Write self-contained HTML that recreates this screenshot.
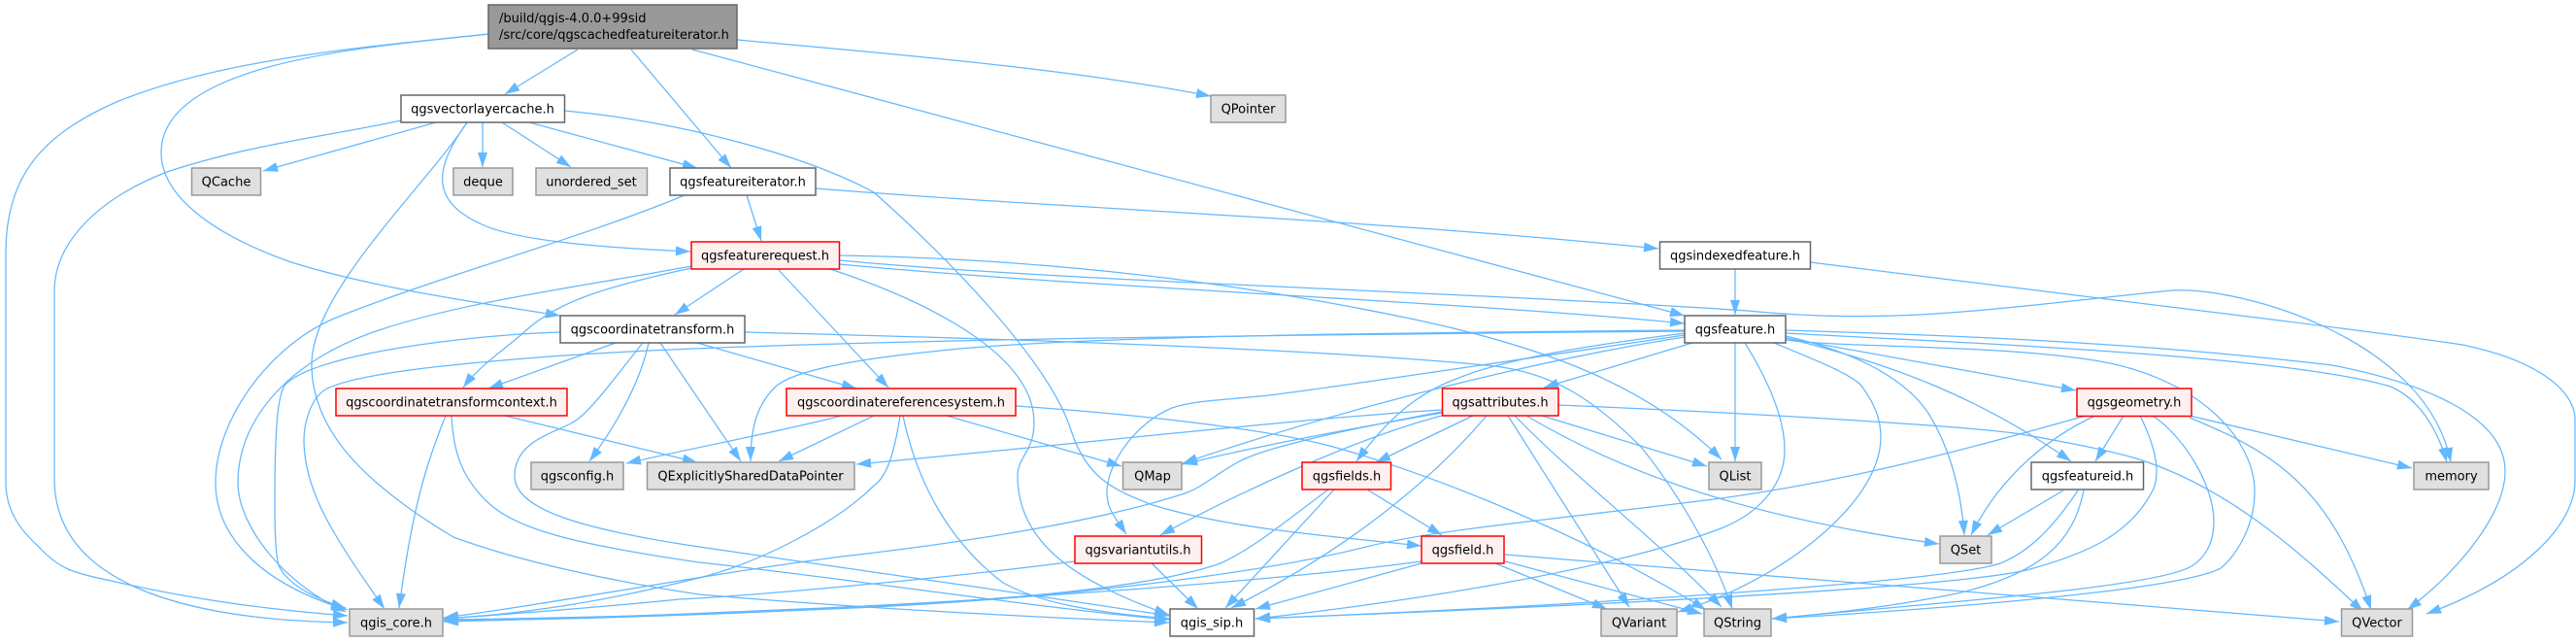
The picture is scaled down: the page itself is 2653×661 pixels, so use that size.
<!DOCTYPE html>
<html>
<head>
<meta charset="utf-8">
<title>qgscachedfeatureiterator.h include graph</title>
<style>
html,body{margin:0;padding:0;background:#fff;width:2653px;height:661px;overflow:hidden}
svg{display:block}
.e path{fill:none;stroke:#63b8ff;stroke-width:1.25;marker-end:url(#a)}
rect{stroke-width:1.5}
.g{fill:#e0e0e0;stroke:#999}
.w{fill:#fff;stroke:#666}
.r{fill:#fff0f0;stroke:#f00}
.k{fill:#999;stroke:#666}
text{font-family:"DejaVu Sans",sans-serif;font-size:13px;fill:#000;text-anchor:middle}
text.l{text-anchor:start}
</style>
</head>
<body>
<svg xmlns="http://www.w3.org/2000/svg" width="2653" height="661" viewBox="0 0 2653 661">
<defs>
<marker id="a" markerUnits="userSpaceOnUse" markerWidth="15" markerHeight="10" refX="15" refY="5" orient="auto" viewBox="0 0 15 10" overflow="visible"><path d="M0,0L15,5L0,10Z" fill="#63b8ff"/></marker>
</defs>
<g class="e">
<path d="M503,35C380,48 230,60 120,105C45,138 6,180 6,260L6,497C6,525 20,545 40,563C60,585 75,590 110,597C200,618 280,628 358,634"/>
<path d="M595,51L520,97"/>
<path d="M503,35C400,47 166,60 166,157C166,200 215,240 300,270C380,295 480,310 577,325"/>
<path d="M650,51L753,173"/>
<path d="M713,51L1735,325"/>
<path d="M759,41C900,54 1100,70 1247,99"/>
<path d="M413,124C340,140 260,148 172,177C100,205 56,250 56,300L56,493C56,590 165,638 358,641"/>
<path d="M449,126L271,176"/>
<path d="M497,126L497,172"/>
<path d="M517,126L588,172"/>
<path d="M545,126L718,173"/>
<path d="M481,126C450,170 440,205 494,230C530,248 620,255 711,259"/>
<path d="M481,126C440,190 321,300 321,375C321,440 370,495 467,553C540,580 640,600 720,612C870,625 1050,635 1204,641"/>
<path d="M581.5,114C700,125 830,160 900,198C970,260 1080,370 1103,443C1120,495 1150,505 1187,520C1270,545 1370,552 1464,562"/>
<path d="M705,201C600,245 450,285 344,328C280,355 222,430 222,497C222,550 265,600 358,628"/>
<path d="M840,194C1100,215 1400,225 1708,256"/>
<path d="M769,201L784,248"/>
<path d="M712,274C600,295 480,310 390,340C300,370 245,430 245,497C245,540 290,600 356,630"/>
<path d="M712,276C625,295 575,310 542,340C520,360 495,375 477,399"/>
<path d="M766,277L695,324"/>
<path d="M801,277L915,399"/>
<path d="M855,277C940,305 1065,360 1065,435C1065,465 1048,470 1048,490C1048,560 1110,600 1204,633"/>
<path d="M864.5,272C1100,295 1500,310 1735,333"/>
<path d="M864.5,263C1050,266 1250,285 1462,330C1600,360 1700,400 1773,473"/>
<path d="M864.5,268C1100,290 1500,300 1800,320C1950,335 2050,318 2237,299C2310,295 2500,350 2524,476"/>
<path d="M1839,343C2000,352 2350,365 2462,398C2490,410 2510,440 2520,476"/>
<path d="M1839,340C2000,345 2200,352 2402,376C2500,395 2580,430 2580,485C2580,530 2530,590 2479,628"/>
<path d="M1839,348L2138,402"/>
<path d="M1839,350C1900,358 2050,355 2150,370C2260,385 2322,450 2322,506C2322,545 2300,575 2287,585C2240,610 1950,630 1825,637"/>
<path d="M1839,346C1900,360 1960,385 1987,427C2010,465 2020,510 2023,551"/>
<path d="M1839,348C1950,375 2040,410 2133,475"/>
<path d="M1797,353C1820,390 1838,430 1838,463C1838,500 1810,530 1770,545C1650,590 1430,622 1293,637"/>
<path d="M1827,353C1880,375 1905,385 1917,397C1930,415 1937,430 1937,450C1937,520 1830,600 1728,630"/>
<path d="M1735,340C1500,342 1100,345 960,362C860,372 815,385 800,397C780,415 773,440 773,475"/>
<path d="M1735,341C1300,345 800,350 567,367C450,376 370,385 337,400C318,410 313,440 313,453C313,510 350,560 396,627"/>
<path d="M1735,343C1680,350 1560,365 1500,390C1460,405 1430,430 1397,475"/>
<path d="M1735,347C1600,368 1400,415 1218,477"/>
<path d="M1735,345C1600,365 1400,395 1307,407C1260,412 1230,412 1207,420C1170,435 1140,477 1140,507C1140,525 1150,535 1160,550"/>
<path d="M1743,353L1590,399"/>
<path d="M1787,353L1787,475"/>
<path d="M577,342C480,345 320,365 293,397C285,410 283,450 283,520C283,560 285,575 287,582C295,600 320,615 356,626"/>
<path d="M634,353L503,400"/>
<path d="M668,353C660,390 640,430 607,475"/>
<path d="M680,353L763,475"/>
<path d="M718,353L882,400"/>
<path d="M662,353C640,380 615,415 597,430C580,445 530,450 530,490C530,525 600,545 720,563C800,575 1050,610 1204,634"/>
<path d="M767,342C1000,348 1350,358 1540,377C1600,385 1640,410 1690,460C1730,510 1765,570 1784,627"/>
<path d="M459,428C440,475 425,520 411,626"/>
<path d="M465,428C467,465 475,490 500,515C530,545 590,560 720,579C870,595 1060,625 1204,638"/>
<path d="M520,428L718,476"/>
<path d="M927,428C922,460 915,490 900,500C860,540 780,580 720,595C620,620 540,632 457,637"/>
<path d="M930,428C945,500 980,560 1033,600C1070,620 1120,630 1204,637"/>
<path d="M867,428C800,445 720,460 645,477"/>
<path d="M900,428L802,475"/>
<path d="M975,428L1155,480"/>
<path d="M1046,418C1150,425 1300,440 1373,460C1480,490 1640,555 1757,628"/>
<path d="M1485,425C1400,440 1300,458 1218,478"/>
<path d="M1485,422C1350,430 1100,458 882,478"/>
<path d="M1517,428L1417,476"/>
<path d="M1485,428C1400,450 1280,505 1195,551"/>
<path d="M1485,424C1400,440 1300,460 1273,477C1250,490 1240,500 1223,507C1140,535 1000,558 867,573C720,592 580,620 457,636"/>
<path d="M1531,428C1470,500 1380,570 1268,626"/>
<path d="M1553,428L1678,625"/>
<path d="M1560,428C1620,490 1700,550 1773,625"/>
<path d="M1588,428L1758,480"/>
<path d="M1572,428C1660,480 1780,530 1997,560"/>
<path d="M1605,417C1800,425 2050,440 2087,448C2125,455 2165,462 2200,472C2290,500 2360,560 2434,630"/>
<path d="M1368,504C1320,540 1290,565 1257,580C1200,600 1100,610 1040,615C850,630 600,638 457,639"/>
<path d="M1374,504L1262,626"/>
<path d="M1408,504L1485,551"/>
<path d="M1107,578C1000,592 800,612 700,617C620,625 530,632 457,637"/>
<path d="M1185,579L1234,627"/>
<path d="M1464,578C1300,600 1000,620 800,628C650,635 550,638 457,640"/>
<path d="M1464,580L1293,627"/>
<path d="M1540,580L1655,627"/>
<path d="M1550,578L1753,632"/>
<path d="M1550,571C1900,600 2200,625 2409,640"/>
<path d="M2148,428C2000,470 1900,495 1773,513C1600,535 1480,545 1407,563C1300,590 1100,615 900,625C750,632 600,636 457,638"/>
<path d="M2158,428C2110,450 2060,490 2030,551"/>
<path d="M2187,428L2158,475"/>
<path d="M2204,428C2220,460 2225,485 2218,503C2195,550 2150,570 2087,587C2000,607 1600,625 1293,637"/>
<path d="M2217,428C2250,450 2280,500 2280,537C2280,560 2270,575 2257,583C2220,605 2000,620 1825,637"/>
<path d="M2255,428L2484,482"/>
<path d="M2255,430C2340,465 2400,500 2442,628"/>
<path d="M2125,505L2047,551"/>
<path d="M2140,505C2110,550 2085,570 2060,580C2000,600 1600,625 1293,637"/>
<path d="M2146,505C2135,560 2100,590 2020,610C1950,625 1880,632 1825,637"/>
<path d="M1787,277L1787,324"/>
<path d="M1864.5,270C2100,300 2400,335 2536,355C2610,370 2650,400 2652,430L2652,495C2652,540 2600,595 2499,632"/>
</g>

<rect class="k" x="503" y="5" width="256" height="45"/>
<text class="l" x="514" y="23">/build/qgis-4.0.0+99sid</text>
<text class="l" x="514" y="40">/src/core/qgscachedfeatureiterator.h</text>

<rect class="w" x="413" y="98" width="168.500" height="28"/><text x="497" y="116.500">qgsvectorlayercache.h</text>
<rect class="g" x="1247" y="98" width="77" height="28"/><text x="1285.500" y="116.500">QPointer</text>
<rect class="g" x="197.500" y="173" width="71" height="28"/><text x="233" y="191.500">QCache</text>
<rect class="g" x="467" y="173" width="61" height="28"/><text x="497.500" y="191.500">deque</text>
<rect class="g" x="552" y="173" width="114.500" height="28"/><text x="609" y="191.500">unordered_set</text>
<rect class="w" x="690" y="173" width="150" height="28"/><text x="765" y="191.500">qgsfeatureiterator.h</text>
<rect class="r" x="712" y="249" width="152.500" height="28"/><text x="788" y="267.500">qgsfeaturerequest.h</text>
<rect class="w" x="1709.500" y="249" width="155" height="28"/><text x="1787" y="267.500">qgsindexedfeature.h</text>
<rect class="w" x="577" y="325" width="190" height="28"/><text x="672" y="343.500">qgscoordinatetransform.h</text>
<rect class="w" x="1735" y="325" width="104" height="28"/><text x="1787" y="343.500">qgsfeature.h</text>
<rect class="r" x="346" y="400" width="238" height="28"/><text x="465" y="418.500">qgscoordinatetransformcontext.h</text>
<rect class="r" x="810" y="400" width="236" height="28"/><text x="928" y="418.500">qgscoordinatereferencesystem.h</text>
<rect class="r" x="1485.500" y="400" width="119.500" height="28"/><text x="1545" y="418.500">qgsattributes.h</text>
<rect class="r" x="2139" y="400" width="118" height="28.500"/><text x="2198" y="418.500">qgsgeometry.h</text>
<rect class="g" x="547" y="476" width="95" height="28"/><text x="594.500" y="494.500">qgsconfig.h</text>
<rect class="g" x="666.500" y="476" width="213.500" height="28"/><text x="773" y="494.500">QExplicitlySharedDataPointer</text>
<rect class="g" x="1156.500" y="476" width="60.500" height="28"/><text x="1187" y="494.500">QMap</text>
<rect class="r" x="1341" y="476" width="91.500" height="28"/><text x="1387" y="494.500">qgsfields.h</text>
<rect class="g" x="1760" y="476" width="54" height="28"/><text x="1787" y="494.500">QList</text>
<rect class="w" x="2092" y="476" width="115.500" height="28"/><text x="2150" y="494.500">qgsfeatureid.h</text>
<rect class="g" x="2486" y="476" width="77" height="28"/><text x="2524.500" y="494.500">memory</text>
<rect class="r" x="1107" y="552" width="130.500" height="28"/><text x="1172" y="570.500">qgsvariantutils.h</text>
<rect class="r" x="1464" y="552" width="85" height="28"/><text x="1506.500" y="570.500">qgsfield.h</text>
<rect class="g" x="1998" y="552" width="53" height="28"/><text x="2024.500" y="570.500">QSet</text>
<rect class="g" x="360" y="627" width="96" height="28"/><text x="408" y="645.500">qgis_core.h</text>
<rect class="w" x="1205" y="627" width="86.500" height="28"/><text x="1248" y="645.500">qgis_sip.h</text>
<rect class="g" x="1649" y="627" width="78" height="28"/><text x="1688" y="645.500">QVariant</text>
<rect class="g" x="1755" y="627" width="69" height="28"/><text x="1789.500" y="645.500">QString</text>
<rect class="g" x="2411.500" y="627" width="73" height="28"/><text x="2448" y="645.500">QVector</text>
</svg>
</body>
</html>
